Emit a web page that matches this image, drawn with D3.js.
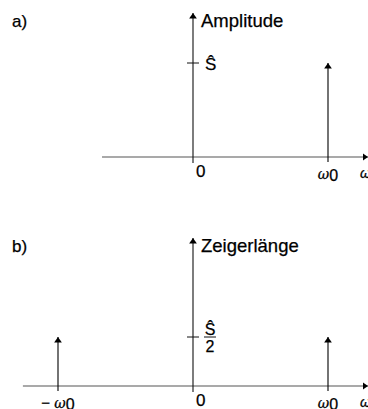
<!DOCTYPE html>
<html>
<head>
<meta charset="utf-8">
<script src="https://cdn.jsdelivr.net/npm/d3@7"></script>
<style>
  html, body { margin: 0; padding: 0; background: #fff; }
  svg text { font-family: "Liberation Sans", Arial, sans-serif; fill: #000; stroke: #000; stroke-width: 0.25; }
</style>
</head>
<body>
<svg id="chart" width="368" height="409"></svg>
<script>
// Spectral lines: positions in units of ω0, heights in units of Ŝ
const positionsA = [1];
const valuesA = [1];
const positionsB = [-1, 1];
const valuesB = [0.5, 0.5];
const tickLabelsA = ["0", "ω0"];
const tickLabelsB = ["-ω0", "0", "ω0"];
const yTickA = [1];
const yTickB = [0.5];

const svg = d3.select("#chart");

const defs = svg.append("defs");
defs.append("marker")
  .attr("id", "arrow")
  .attr("viewBox", "0 0 10 14")
  .attr("refX", 10).attr("refY", 7)
  .attr("markerWidth", 5.5).attr("markerHeight", 8)
  .attr("markerUnits", "userSpaceOnUse")
  .attr("orient", "auto")
  .append("path").attr("d", "M0,0 L10,7 L0,14 Z").attr("fill", "#000");

const x = d3.scaleLinear().domain([0, 1]).range([193, 328]);

function panel(opts) {
  const g = svg.append("g");
  const y = d3.scaleLinear().domain([0, 1]).range([opts.y0, opts.y0 - opts.unit]);

  // x axis
  g.append("line")
    .attr("x1", x(opts.xMin)).attr("x2", 368)
    .attr("y1", y(0)).attr("y2", y(0))
    .attr("stroke", "#555").attr("stroke-width", 1.2)
    .attr("marker-end", "url(#arrow)");
  // y axis
  g.append("line")
    .attr("x1", x(0)).attr("x2", x(0))
    .attr("y1", y(0) + 6).attr("y2", opts.top)
    .attr("stroke", "#111").attr("stroke-width", 1.1)
    .attr("marker-end", "url(#arrow)");

  // y tick
  opts.yTicks.forEach(v => {
    g.append("line")
      .attr("x1", x(0) - 6).attr("x2", x(0) + 6)
      .attr("y1", y(v)).attr("y2", y(v))
      .attr("stroke", "#111").attr("stroke-width", 1);
  });

  // spectral lines
  g.selectAll("line.spec").data(opts.positions).enter().append("line")
    .attr("class", "spec")
    .attr("x1", d => x(d)).attr("x2", d => x(d))
    .attr("y1", y(0) + 5)
    .attr("y2", (d, i) => y(opts.values[i]))
    .attr("stroke", "#000").attr("stroke-width", 1.1)
    .attr("marker-end", "url(#arrow)");

  // axis title
  g.append("text").attr("x", x(0) + 8).attr("y", opts.top + 14)
    .attr("font-size", 18.5).text(opts.title);

  // panel letter
  g.append("text").attr("x", 12).attr("y", opts.top + 14)
    .attr("font-size", 17).attr("stroke-width", 0.6).text(opts.letter);

  // x tick labels
  opts.xLabels.forEach(lbl => {
    const base = y(0) + 20;
    if (lbl === "0") {
      g.append("text").attr("x", x(0) + 3).attr("y", base)
        .attr("font-size", 17).text("0");
    } else {
      const neg = lbl.startsWith("-");
      const pos = neg ? -1 : 1;
      const t = g.append("text").attr("x", x(pos)).attr("y", base + 2)
        .attr("text-anchor", "middle");
      if (neg) t.append("tspan").attr("font-size", 15).text("− ");
      t.append("tspan").attr("font-family", "DejaVu Serif")
        .attr("font-style", "italic").attr("font-size", 14).text("ω");
      t.append("tspan").attr("font-size", 16).attr("dy", 2).text("0");
    }
  });

  // axis variable
  g.append("text").attr("x", 360).attr("y", y(0) + 21)
    .attr("font-family", "DejaVu Serif").attr("font-style", "italic")
    .attr("font-size", 14).text("ω");

  return { g, y };
}

// a) amplitude spectrum
const pa = panel({
  y0: 157, unit: 94, top: 13, xMin: -0.674,
  positions: positionsA, values: valuesA, yTicks: yTickA,
  title: "Amplitude", letter: "a)", xLabels: tickLabelsA
});
pa.g.append("text").attr("x", 205).attr("y", pa.y(yTickA[0]) + 7)
  .attr("font-size", 17).text("Ŝ");

// b) phasor length spectrum
const pb = panel({
  y0: 386, unit: 98, top: 238, xMin: -1.26,
  positions: positionsB, values: valuesB, yTicks: yTickB,
  title: "Zeigerlänge", letter: "b)", xLabels: tickLabelsB
});
const fy = pb.y(yTickB[0]);
pb.g.append("text").attr("x", 210).attr("y", fy - 2)
  .attr("text-anchor", "middle").attr("font-size", 16).text("Ŝ");
pb.g.append("line").attr("x1", 204).attr("x2", 216)
  .attr("y1", fy).attr("y2", fy).attr("stroke", "#111").attr("stroke-width", 1);
pb.g.append("text").attr("x", 210).attr("y", fy + 15)
  .attr("text-anchor", "middle").attr("font-size", 16).text("2");
</script>
</body>
</html>
